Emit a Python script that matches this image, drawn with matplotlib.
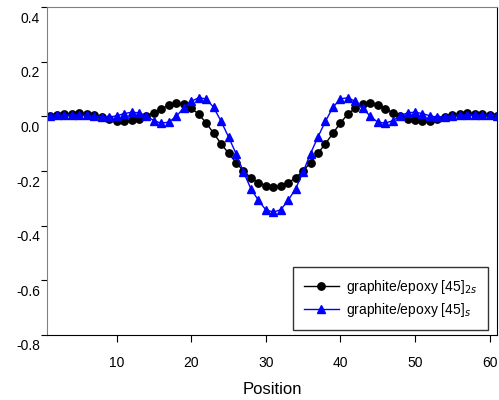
import numpy as np
import matplotlib
matplotlib.use("Agg")
import matplotlib.pyplot as plt
from matplotlib.transforms import ScaledTranslation

plt.rcParams["font.family"] = ["Liberation Sans", "DejaVu Sans"]

# left half (positions 1..31); the profiles are symmetric about position 31
half_pos = np.arange(1, 32)
half_2s = [0.002, 0.004, 0.007, 0.010, 0.011, 0.009, 0.005, -0.002, -0.010, -0.016,
           -0.018, -0.015, -0.008, 0.002, 0.014, 0.027, 0.042, 0.048, 0.044, 0.030,
           0.008, -0.024, -0.062, -0.100, -0.135, -0.169, -0.200, -0.225, -0.243, -0.254,
           -0.258]
half_s = [0.003, 0.005, 0.004, 0.006, 0.005, 0.004, 0.002, -0.001, -0.003, 0.002,
          0.010, 0.015, 0.013, 0.001, -0.016, -0.025, -0.021, 0.000, 0.031, 0.055,
          0.068, 0.064, 0.033, -0.018, -0.075, -0.136, -0.203, -0.265, -0.307, -0.342,
          -0.350]

position = np.arange(1, 62)
lam_2s = np.concatenate([half_2s, half_2s[-2::-1]])
lam_s = np.concatenate([half_s, half_s[-2::-1]])

fig = plt.figure(figsize=(4.99, 4.0), dpi=100)
ax = fig.add_axes([0.094, 0.1625, 0.902, 0.82])

ax.plot(position, lam_2s, color="black", lw=1.0, marker="o", ms=5.3,
        label="graphite/epoxy [45]$_{2s}$")
ax.plot(position, lam_s, color="#0000ff", lw=1.0, marker="^", ms=5.3,
        label="graphite/epoxy [45]$_{s}$")

ax.set_xlim(0.65, 61.0)
ax.set_ylim(-0.8, 0.4)
ax.set_xticks([10, 20, 30, 40, 50, 60])
ax.set_yticks([-0.8, -0.6, -0.4, -0.2, 0.0, 0.2, 0.4])
ax.set_yticklabels(["-0.8", "-0.6", "-0.4", "-0.2", "0.0", "0.2", "0.4"])
ax.tick_params(axis="x", direction="out", length=5, pad=10, labelsize=10)
ax.tick_params(axis="y", direction="out", length=4, pad=1, labelsize=10)
off = ScaledTranslation(0, -10 / 100, fig.dpi_scale_trans)
for lab in ax.get_yticklabels():
    lab.set_transform(lab.get_transform() + off)

for side in ("left", "top"):
    ax.spines[side].set_color("#808080")
for side in ("right", "bottom"):
    ax.spines[side].set_color("black")

ax.set_xlabel("Position", fontsize=12, labelpad=9)

leg = ax.legend(loc="lower right", bbox_to_anchor=(0.98, 0.015), borderaxespad=0,
                fontsize=10, frameon=True, fancybox=False, handlelength=2.5,
                handletextpad=0.5, borderpad=0.8, labelspacing=0.35)
leg.get_frame().set_edgecolor("black")
leg.get_frame().set_linewidth(1.0)

fig.savefig("out.png", dpi=100)
